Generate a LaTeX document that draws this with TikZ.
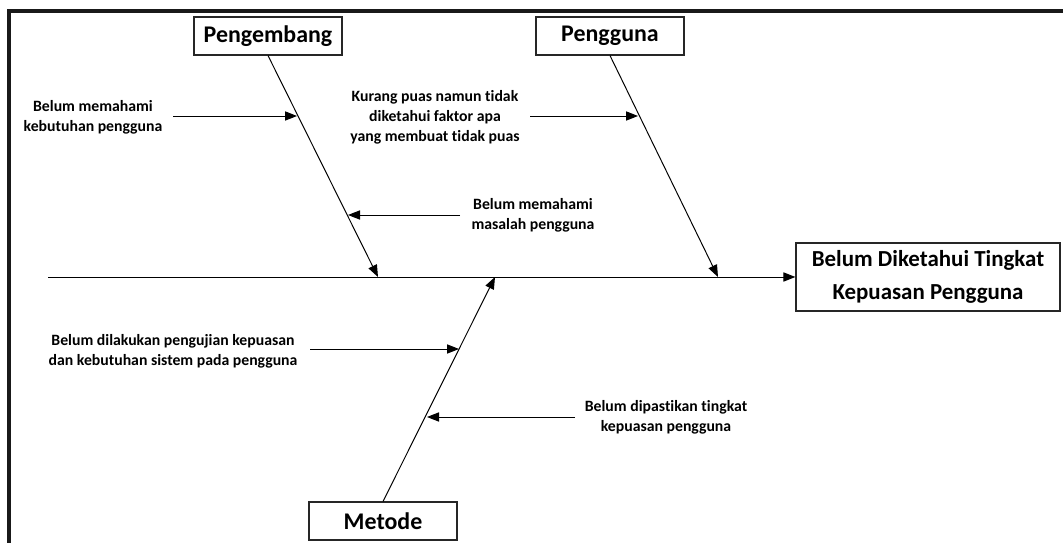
\documentclass[tikz,border=0pt]{standalone}
\usepackage{fontspec}
\setmainfont{Carlito}[Ligatures=NoCommon]
\usetikzlibrary{arrows.meta}

\begin{document}
\begin{tikzpicture}[
  x=0.025cm, y=-0.025cm,
  font=\bfseries,
  bonebox/.style={draw=black!85, line width=0.8pt, minimum width=3.7cm, minimum height=0.95cm, align=center, font=\fontsize{17}{20}\selectfont\bfseries},
  effectbox/.style={bonebox, minimum width=6.6cm, minimum height=1.7cm, font=\fontsize{16.3}{23.5}\selectfont\bfseries},
  cause/.style={align=center, font=\fontsize{11.2}{14.2}\selectfont\bfseries},
  bone/.style={line width=0.7pt, -{Triangle[length=0.3cm, width=0.23cm]}},
  frameline/.style={line width=2.2pt, black!90}
]
\useasboundingbox (0,0) rectangle (1063,543);

% Spine height and bone tips
\def\spiney{277}

% Frame (top and left edges only)
\draw[frameline] (1063,11) -- (9,11) -- (9,543);

% Category boxes and effect
\node[bonebox] (pengembang) at (268,36) {Pengembang};
\node[bonebox] (pengguna) at (610,36) {Pengguna};
\node[bonebox] (metode) at (383,521) {Metode};
\node[effectbox] (effect) at (928,\spiney) {Belum Diketahui Tingkat\\Kepuasan Pengguna};

% Spine
\coordinate (tail) at (48,\spiney);
\draw[bone] (tail) -- (effect.west);

% Main bones
\coordinate (tipA) at (378,\spiney);
\coordinate (tipB) at (718,\spiney);
\coordinate (tipC) at (495,\spiney);
\draw[bone] (pengembang.south) -- (tipA);
\draw[bone] (pengguna.south) -- (tipB);
\draw[bone] (metode.north) -- (tipC);

% Causes
\node[cause] (c1) at (93,117) {Belum memahami\\kebutuhan pengguna};
\node[cause] (c2) at (533,215) {Belum memahami\\masalah pengguna};
\node[cause] (c3) at (435,117) {Kurang puas namun tidak\\diketahui faktor apa\\yang membuat tidak puas};
\node[cause] (c4) at (173,351) {Belum dilakukan pengujian kepuasan\\dan kebutuhan sistem pada pengguna};
\node[cause] (c5) at (666,417) {Belum dipastikan tingkat\\kepuasan pengguna};

% Cause arrows (start / end on bone)
\coordinate (s1) at (173,116); \coordinate (e1) at (297,116);
\coordinate (s2) at (460,215); \coordinate (e2) at (348,215);
\coordinate (s3) at (530,116); \coordinate (e3) at (638,116);
\coordinate (s4) at (310,349); \coordinate (e4) at (459,349);
\coordinate (s5) at (575,417); \coordinate (e5) at (427,417);
\foreach \i in {1,...,5}{
  \draw[bone] (s\i) -- (e\i);
}

\end{tikzpicture}
\end{document}
